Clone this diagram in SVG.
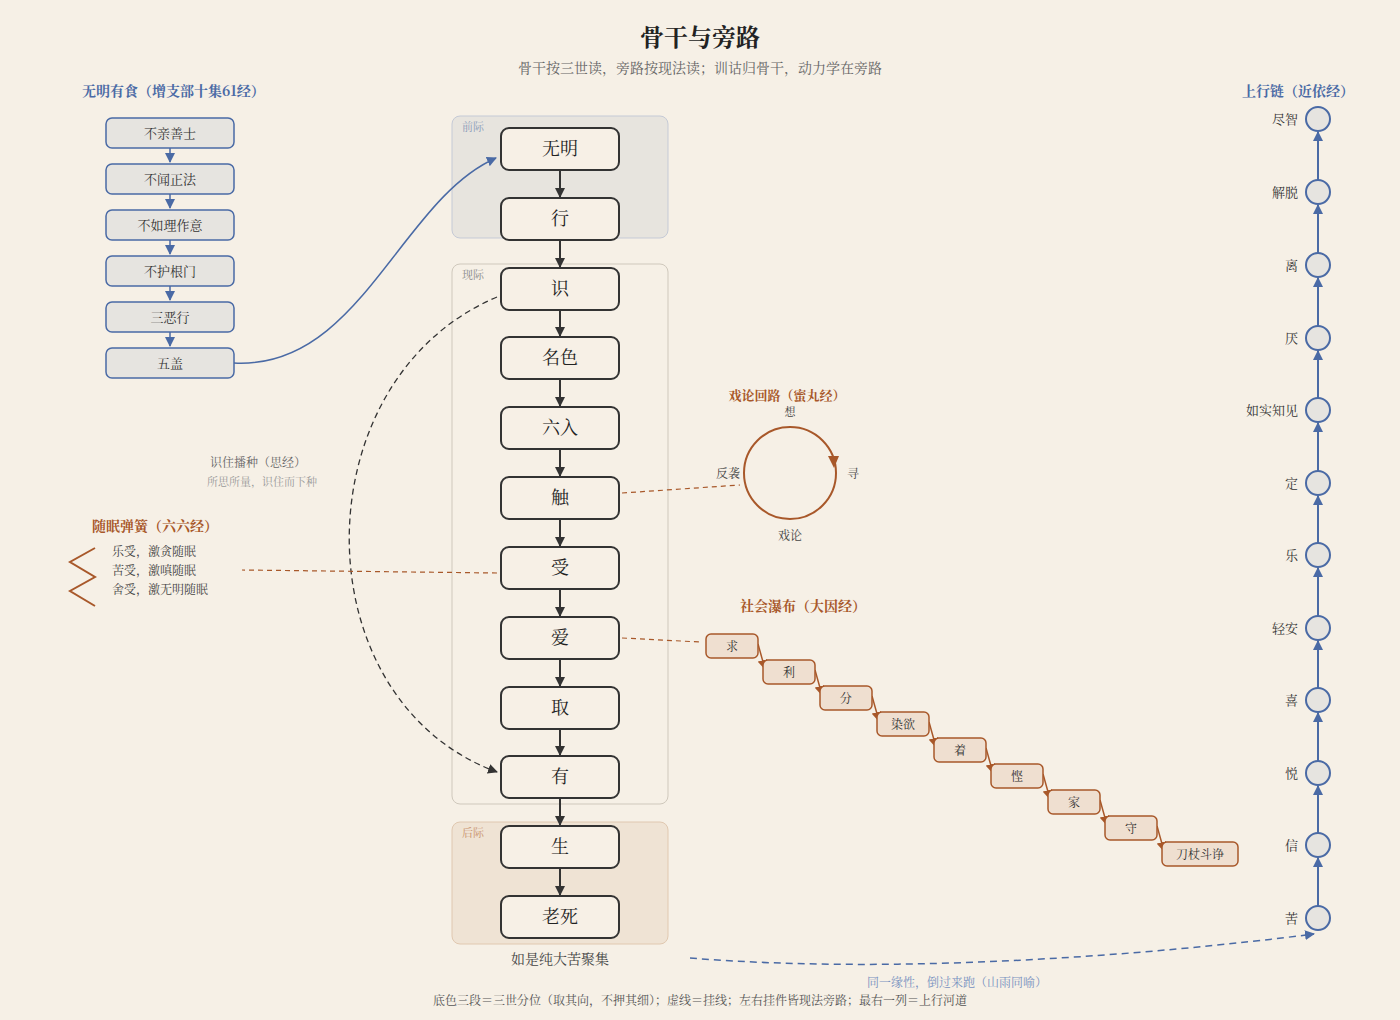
<svg xmlns="http://www.w3.org/2000/svg" width="1400" height="1020" viewBox="0 0 1400 1020">
<style>
text{font-family:"Noto Serif CJK SC","Noto Sans CJK SC",sans-serif}
.m rect{fill:#f7f0e6;stroke:#333;stroke-width:2}
.m text{font-size:18px;fill:#222;text-anchor:middle}
.l rect{fill:#e6e4e0;stroke:#4a6aa5;stroke-width:1.5}
.l text{font-size:13px;fill:#333;text-anchor:middle}
.s rect{fill:#efdfd0;stroke:#a8582a;stroke-width:1.5}
.s text{font-size:12px;fill:#333;text-anchor:middle}
.u circle{fill:#e6e4e0;stroke:#4a6aa5;stroke-width:2}
.u text{font-size:13px;fill:#333;text-anchor:end}
.band{font-size:11px}
</style>
<defs>
<marker id="ak" markerWidth="10" markerHeight="10" refX="9" refY="5" orient="auto" markerUnits="userSpaceOnUse" viewBox="0 0 10 10"><path d="M0,0L10,5L0,10z" fill="#333"/></marker>
<marker id="ab" markerWidth="10" markerHeight="10" refX="9" refY="5" orient="auto" markerUnits="userSpaceOnUse" viewBox="0 0 10 10"><path d="M0,0L10,5L0,10z" fill="#4a6aa5"/></marker>
<marker id="ao" markerWidth="10" markerHeight="10" refX="9" refY="5" orient="auto" markerUnits="userSpaceOnUse" viewBox="0 0 10 10"><path d="M0,0L10,5L0,10z" fill="#a8582a"/></marker>
</defs>
<rect width="1400" height="1020" fill="#f6f0e6"/>
<text x="700" y="46" font-size="24" font-weight="bold" text-anchor="middle" fill="#222">骨干与旁路</text>
<text x="700" y="73" font-size="14" text-anchor="middle" fill="#666">骨干按三世读，旁路按现法读；训诂归骨干，动力学在旁路</text>

<rect x="452" y="116" width="216" height="122" rx="8" fill="#e7e4de" stroke="#c5cad6"/>
<rect x="452" y="264" width="216" height="540" rx="8" fill="#f6f0e6" stroke="#cfc8bc"/>
<rect x="452" y="822" width="216" height="122" rx="8" fill="#efe3d4" stroke="#e0c8b0"/>
<text class="band" x="462" y="131" fill="#8a9ab8">前际</text>
<text class="band" x="462" y="279" fill="#888">现际</text>
<text class="band" x="462" y="837" fill="#c8906a">后际</text>

<g id="connectors" fill="none">
<g stroke="#333" stroke-width="2" marker-end="url(#ak)">
<line x1="560" y1="170" x2="560" y2="197"/><line x1="560" y1="240" x2="560" y2="267"/>
<line x1="560" y1="310" x2="560" y2="336"/><line x1="560" y1="379" x2="560" y2="406"/>
<line x1="560" y1="449" x2="560" y2="476"/><line x1="560" y1="519" x2="560" y2="546"/>
<line x1="560" y1="589" x2="560" y2="616"/><line x1="560" y1="659" x2="560" y2="686"/>
<line x1="560" y1="729" x2="560" y2="755"/><line x1="560" y1="798" x2="560" y2="825"/>
<line x1="560" y1="868" x2="560" y2="895"/>
</g>
<g stroke="#4a6aa5" stroke-width="1.5" marker-end="url(#ab)">
<line x1="170" y1="148" x2="170" y2="162"/><line x1="170" y1="194" x2="170" y2="208"/>
<line x1="170" y1="240" x2="170" y2="254"/><line x1="170" y1="286" x2="170" y2="300"/>
<line x1="170" y1="332" x2="170" y2="346"/>
<path d="M234,363 C360,370 400,200 496,158"/>
</g>
<g stroke="#4a6aa5" stroke-width="2" marker-end="url(#ab)">
<line x1="1318" y1="906" x2="1318" y2="858"/><line x1="1318" y1="833" x2="1318" y2="786"/>
<line x1="1318" y1="761" x2="1318" y2="713"/><line x1="1318" y1="688" x2="1318" y2="641"/>
<line x1="1318" y1="616" x2="1318" y2="568"/><line x1="1318" y1="543" x2="1318" y2="496"/>
<line x1="1318" y1="471" x2="1318" y2="423"/><line x1="1318" y1="398" x2="1318" y2="351"/>
<line x1="1318" y1="326" x2="1318" y2="278"/><line x1="1318" y1="253" x2="1318" y2="205"/>
<line x1="1318" y1="180" x2="1318" y2="132"/>
</g>
<path d="M497,297 C300,380 300,700 497,772" stroke="#333" stroke-width="1.3" stroke-dasharray="6,4" marker-end="url(#ak)"/>
<path d="M690,958 C900,975 1150,955 1314,934" stroke="#4a6aa5" stroke-width="1.5" stroke-dasharray="7,5" marker-end="url(#ab)"/>
<g stroke="#a8582a" stroke-width="1.2" stroke-dasharray="5,4">
<line x1="622" y1="493" x2="740" y2="485"/>
<line x1="622" y1="638" x2="700" y2="642"/>
<line x1="497" y1="573" x2="242" y2="570"/>
</g>
<circle cx="790" cy="473" r="46" stroke="#a8582a" stroke-width="2"/>
<path d="M828,456 L839,456 L834,468 z" fill="#a8582a"/>
<polyline points="95,548 70,562 95,577 70,591 95,606" stroke="#a8582a" stroke-width="2"/>
<g stroke="#a8582a" stroke-width="1.5" marker-end="url(#ao)">
<line x1="758" y1="644" x2="765" y2="669"/><line x1="815" y1="670" x2="822" y2="695"/>
<line x1="872" y1="696" x2="879" y2="721"/><line x1="929" y1="722" x2="936" y2="747"/>
<line x1="986" y1="748" x2="993" y2="773"/><line x1="1043" y1="774" x2="1050" y2="799"/>
<line x1="1100" y1="800" x2="1107" y2="825"/><line x1="1157" y1="826" x2="1164" y2="851"/>
</g>
</g>

<g class="m">
<g id="n-wuming"><rect x="501" y="128" width="118" height="42" rx="8"/><text x="560" y="155">无明</text></g>
<g id="n-xing"><rect x="501" y="198" width="118" height="42" rx="8"/><text x="560" y="225">行</text></g>
<g id="n-shi"><rect x="501" y="268" width="118" height="42" rx="8"/><text x="560" y="295">识</text></g>
<g id="n-mingse"><rect x="501" y="337" width="118" height="42" rx="8"/><text x="560" y="364">名色</text></g>
<g id="n-liuru"><rect x="501" y="407" width="118" height="42" rx="8"/><text x="560" y="434">六入</text></g>
<g id="n-chu"><rect x="501" y="477" width="118" height="42" rx="8"/><text x="560" y="504">触</text></g>
<g id="n-shou"><rect x="501" y="547" width="118" height="42" rx="8"/><text x="560" y="574">受</text></g>
<g id="n-ai"><rect x="501" y="617" width="118" height="42" rx="8"/><text x="560" y="644">爱</text></g>
<g id="n-qu"><rect x="501" y="687" width="118" height="42" rx="8"/><text x="560" y="714">取</text></g>
<g id="n-you"><rect x="501" y="756" width="118" height="42" rx="8"/><text x="560" y="783">有</text></g>
<g id="n-sheng"><rect x="501" y="826" width="118" height="42" rx="8"/><text x="560" y="853">生</text></g>
<g id="n-laosi"><rect x="501" y="896" width="118" height="42" rx="8"/><text x="560" y="923">老死</text></g>
</g>
<text x="560" y="964" font-size="14" text-anchor="middle" fill="#444">如是纯大苦聚集</text>

<text x="82" y="96" font-size="14" font-weight="bold" fill="#4a6aa5">无明有食（增支部十集61经）</text>
<g class="l">
<g id="l1"><rect x="106" y="118" width="128" height="30" rx="6"/><text x="170" y="138">不亲善士</text></g>
<g id="l2"><rect x="106" y="164" width="128" height="30" rx="6"/><text x="170" y="184">不闻正法</text></g>
<g id="l3"><rect x="106" y="210" width="128" height="30" rx="6"/><text x="170" y="230">不如理作意</text></g>
<g id="l4"><rect x="106" y="256" width="128" height="30" rx="6"/><text x="170" y="276">不护根门</text></g>
<g id="l5"><rect x="106" y="302" width="128" height="30" rx="6"/><text x="170" y="322">三恶行</text></g>
<g id="l6"><rect x="106" y="348" width="128" height="30" rx="6"/><text x="170" y="368">五盖</text></g>
</g>

<text x="258" y="467" font-size="12" text-anchor="middle" fill="#666">识住播种（思经）</text>
<text x="262" y="486" font-size="11" text-anchor="middle" fill="#999">所思所量，识住而下种</text>
<text x="155" y="531" font-size="14" font-weight="bold" text-anchor="middle" fill="#a8582a">随眠弹簧（六六经）</text>
<text x="112" y="556" font-size="12" fill="#444">乐受，激贪随眠</text>
<text x="112" y="575" font-size="12" fill="#444">苦受，激嗔随眠</text>
<text x="112" y="594" font-size="12" fill="#444">舍受，激无明随眠</text>

<text x="787" y="400" font-size="13" font-weight="bold" text-anchor="middle" fill="#a8582a">戏论回路（蜜丸经）</text>
<text x="790" y="416" font-size="11" text-anchor="middle" fill="#444">想</text>
<text x="853" y="478" font-size="12" text-anchor="middle" fill="#444">寻</text>
<text x="790" y="540" font-size="12" text-anchor="middle" fill="#444">戏论</text>
<text x="728" y="478" font-size="12" text-anchor="middle" fill="#444">反袭</text>

<text x="803" y="611" font-size="14" font-weight="bold" text-anchor="middle" fill="#a8582a">社会瀑布（大因经）</text>
<g class="s">
<g id="s1"><rect x="706" y="634" width="52" height="24" rx="5"/><text x="732" y="651">求</text></g>
<g id="s2"><rect x="763" y="660" width="52" height="24" rx="5"/><text x="789" y="677">利</text></g>
<g id="s3"><rect x="820" y="686" width="52" height="24" rx="5"/><text x="846" y="703">分</text></g>
<g id="s4"><rect x="877" y="712" width="52" height="24" rx="5"/><text x="903" y="729">染欲</text></g>
<g id="s5"><rect x="934" y="738" width="52" height="24" rx="5"/><text x="960" y="755">着</text></g>
<g id="s6"><rect x="991" y="764" width="52" height="24" rx="5"/><text x="1017" y="781">悭</text></g>
<g id="s7"><rect x="1048" y="790" width="52" height="24" rx="5"/><text x="1074" y="807">家</text></g>
<g id="s8"><rect x="1105" y="816" width="52" height="24" rx="5"/><text x="1131" y="833">守</text></g>
<g id="s9"><rect x="1162" y="842" width="76" height="24" rx="5"/><text x="1200" y="859">刀杖斗诤</text></g>
</g>

<text x="1298" y="96" font-size="14" font-weight="bold" text-anchor="middle" fill="#4a6aa5">上行链（近依经）</text>
<g class="u">
<g id="u1"><circle cx="1318" cy="119" r="12"/><text x="1298" y="124">尽智</text></g>
<g id="u2"><circle cx="1318" cy="192" r="12"/><text x="1298" y="197">解脱</text></g>
<g id="u3"><circle cx="1318" cy="265" r="12"/><text x="1298" y="270">离</text></g>
<g id="u4"><circle cx="1318" cy="338" r="12"/><text x="1298" y="343">厌</text></g>
<g id="u5"><circle cx="1318" cy="410" r="12"/><text x="1298" y="415">如实知见</text></g>
<g id="u6"><circle cx="1318" cy="483" r="12"/><text x="1298" y="488">定</text></g>
<g id="u7"><circle cx="1318" cy="555" r="12"/><text x="1298" y="560">乐</text></g>
<g id="u8"><circle cx="1318" cy="628" r="12"/><text x="1298" y="633">轻安</text></g>
<g id="u9"><circle cx="1318" cy="700" r="12"/><text x="1298" y="705">喜</text></g>
<g id="u10"><circle cx="1318" cy="773" r="12"/><text x="1298" y="778">悦</text></g>
<g id="u11"><circle cx="1318" cy="845" r="12"/><text x="1298" y="850">信</text></g>
<g id="u12"><circle cx="1318" cy="918" r="12"/><text x="1298" y="923">苦</text></g>
</g>

<text x="957" y="987" font-size="12" text-anchor="middle" fill="#7890c0">同一缘性，倒过来跑（山雨同喻）</text>
<text x="700" y="1005" font-size="12" text-anchor="middle" fill="#555">底色三段＝三世分位（取其向，不押其细）；虚线＝挂线；左右挂件皆现法旁路；最右一列＝上行河道</text>
</svg>
